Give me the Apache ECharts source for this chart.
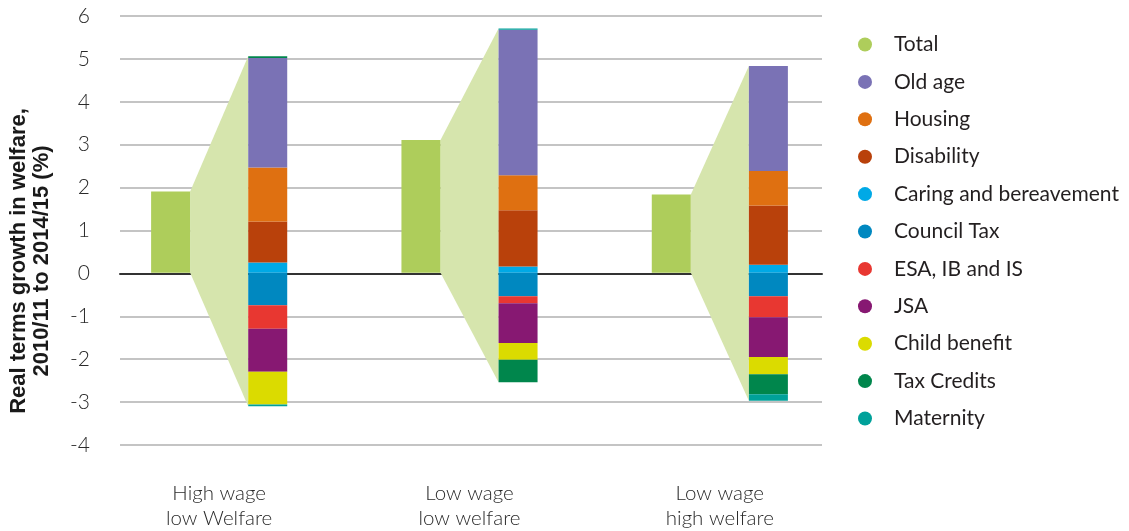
<!DOCTYPE html>
<html>
<head>
<meta charset="utf-8">
<script src="https://cdn.jsdelivr.net/npm/echarts@6/dist/echarts.min.js"></script>
<style>
  html, body { margin: 0; padding: 0; background: #fff; }
  #chart { width: 1129px; height: 531px; }
</style>
</head>
<body>
<div id="chart"></div>
<script>
// Real terms growth in welfare by household type, broken down by benefit
const categories = ['High wage\nlow Welfare', 'Low wage\nlow welfare', 'Low wage\nhigh welfare'];
const yTicks = [-4, -3, -2, -1, 0, 1, 2, 3, 4, 5, 6];

const total        = [1.9, 3.1, 1.83];
const oldAge       = [2.56, 3.40, 2.45];
const housing      = [1.26, 0.82, 0.81];
const disability   = [0.96, 1.31, 1.38];
const caring       = [0.24, 0.15, 0.19];
const councilTax   = [-0.76, -0.55, -0.55];
const esaIbIs      = [-0.55, -0.16, -0.49];
const jsa          = [-1.0, -0.93, -0.93];
const childBenefit = [-0.77, -0.39, -0.40];
const taxCredits   = [0.04, -0.53, -0.47];
const maternity    = [-0.04, 0.03, -0.15];

// Component series in stacking order (positives grow up from zero, negatives down)
const parts = [
  { name: 'Caring and bereavement', data: caring,       color: '#00a9e6' },
  { name: 'Council Tax',            data: councilTax,   color: '#0088c0' },
  { name: 'Disability',             data: disability,   color: '#b9410b' },
  { name: 'ESA, IB and IS',         data: esaIbIs,      color: '#e83731' },
  { name: 'Housing',                data: housing,      color: '#df7011' },
  { name: 'JSA',                    data: jsa,          color: '#871872' },
  { name: 'Old age',                data: oldAge,       color: '#7a72b5' },
  { name: 'Child benefit',          data: childBenefit, color: '#dbdb00' },
  { name: 'Tax Credits',            data: taxCredits,   color: '#00864c' },
  { name: 'Maternity',              data: maternity,    color: '#00a19a' }
];
const legendOrder = ['Total', 'Old age', 'Housing', 'Disability', 'Caring and bereavement',
  'Council Tax', 'ESA, IB and IS', 'JSA', 'Child benefit', 'Tax Credits', 'Maternity'];

// Extent of each breakdown column, for the connecting wedge
const fanData = categories.map((c, i) => {
  let up = 0, down = 0;
  parts.forEach(p => { const v = p.data[i]; if (v >= 0) up += v; else down += v; });
  return [i, total[i], up, down];
});

const BAR_W = 39;
const HALF_SPAN = 29; // distance from category centre to the inner bar edges

const textFont = 'Lato, "Noto Sans", sans-serif';
const chart = echarts.init(document.getElementById('chart'), null, { renderer: 'canvas' });

const barBase = {
  type: 'bar', xAxisIndex: 1, yAxisIndex: 1,
  barWidth: BAR_W, barGap: '149%', z: 3
};

chart.setOption({
  animation: false,
  backgroundColor: '#ffffff',
  grid: [
    { left: 120, right: 307, top: 16, bottom: 86 },
    { left: 94, right: 284, top: 16, bottom: 86 }
  ],
  xAxis: [
    {
      gridIndex: 0, type: 'category', data: categories,
      axisLine: { show: true, onZero: true, lineStyle: { color: '#333', width: 2 } },
      axisTick: { show: false }, axisLabel: { show: false }, z: 1
    },
    {
      gridIndex: 1, type: 'category', data: categories,
      axisLine: { show: false }, axisTick: { show: false },
      axisLabel: {
        margin: 37, color: '#2a2a2a', fontSize: 20.5, lineHeight: 25,
        fontFamily: textFont, fontWeight: 300
      }
    }
  ],
  yAxis: [
    {
      gridIndex: 0, type: 'value', min: -4, max: 6, interval: 1,
      axisLine: { show: false }, axisTick: { show: false },
      axisLabel: { margin: 30, color: '#2a2a2a', fontSize: 21, fontFamily: textFont, fontWeight: 300 },
      splitLine: { show: true, lineStyle: { color: '#b0b0b0', width: 1.5 } }
    },
    {
      gridIndex: 1, type: 'value', min: -4, max: 6, interval: 1,
      axisLine: { show: false }, axisTick: { show: false },
      axisLabel: { show: false }, splitLine: { show: false }
    }
  ],
  legend: {
    orient: 'vertical', left: 853, top: 29,
    data: legendOrder, icon: 'circle',
    itemWidth: 14, itemHeight: 14, itemGap: 16.4,
    textStyle: { color: '#231f20', fontSize: 21, fontFamily: textFont, lineHeight: 20, padding: [0, 0, 0, 17] }
  },
  graphic: [
    {
      type: 'text', x: 30, y: 261, rotation: Math.PI / 2,
      style: {
        text: 'Real terms growth in welfare,\n2010/11 to 2014/15 (%)',
        fill: '#1a1a1a', font: 'bold 22px "Liberation Sans", Arial, sans-serif',
        align: 'center', verticalAlign: 'middle', lineHeight: 23
      }
    }
  ],
  series: [
    {
      name: 'fan', type: 'custom', xAxisIndex: 1, yAxisIndex: 1, silent: true, z: 2,
      data: fanData, encode: { x: 0, y: 1 },
      renderItem: function (params, api) {
        const idx = api.value(0);
        const c = api.coord([idx, 0]);
        const xr = c[0] - HALF_SPAN, xl = c[0] + HALF_SPAN;
        const pTot = api.coord([idx, api.value(1)]);
        const pTop = api.coord([idx, api.value(2)]);
        const pBot = api.coord([idx, api.value(3)]);
        return {
          type: 'polygon',
          shape: { points: [[xr, pTot[1]], [xl, pTop[1]], [xl, pBot[1]], [xr, c[1]]] },
          style: { fill: '#d6e5ad' }
        };
      }
    },
    Object.assign({}, barBase, {
      name: 'Total', stack: 'total', data: total, itemStyle: { color: '#aecd5b' }
    })
  ].concat(parts.map(p => Object.assign({}, barBase, {
    name: p.name, stack: 'parts', data: p.data, itemStyle: { color: p.color }
  })))
});
</script>
</body>
</html>
